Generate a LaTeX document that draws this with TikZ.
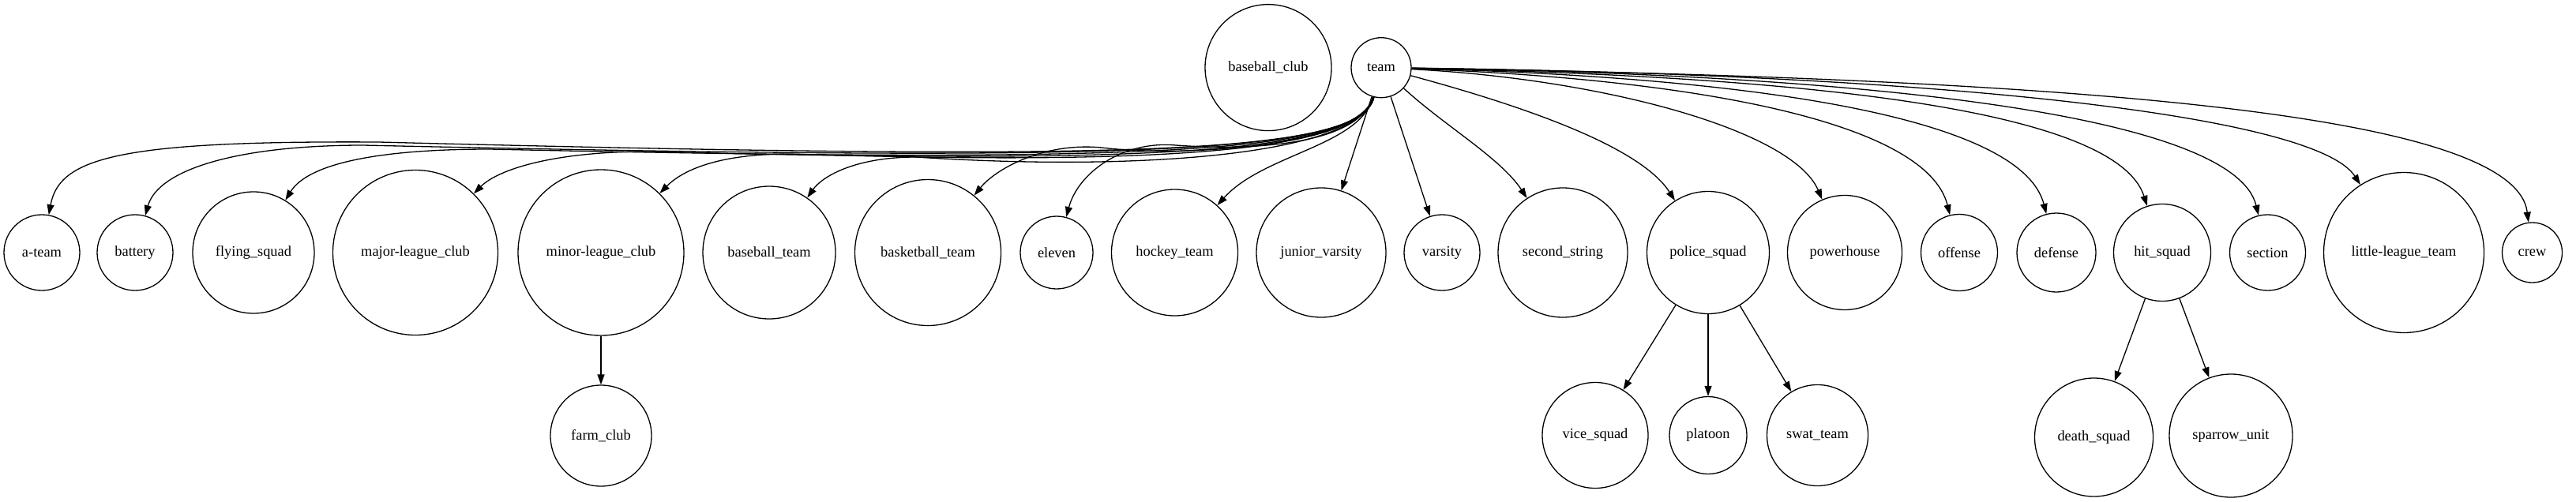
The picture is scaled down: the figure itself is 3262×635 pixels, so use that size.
\documentclass[tikz,border=0pt]{standalone}
\usepackage{fontspec}
\setmainfont{Liberation Serif}
\usetikzlibrary{arrows.meta}
\tikzset{
  nd/.style={circle,draw,line width=1.3pt,inner sep=0pt,minimum size=#1pt,font=\fontsize{18.4}{22}\selectfont},
  edge/.style={line width=1.3pt,-{Triangle[length=13pt,width=9pt]}},
}
\begin{document}
\begin{tikzpicture}[x=1pt,y=-1pt]
\useasboundingbox (0,0) rectangle (3262,635);
% nodes
\node[nd=76]  (team) at (1749,85.7) {team};
\node[nd=160] (bclub) at (1606,85.6) {baseball\_club};
\node[nd=96]  (ateam) at (53,320) {a-team};
\node[nd=96]  (battery) at (171,320) {battery};
\node[nd=154] (flying) at (321,320) {flying\_squad};
\node[nd=209] (major) at (526,320) {major-league\_club};
\node[nd=210] (minor) at (761,320) {minor-league\_club};
\node[nd=128] (farm) at (761,552) {farm\_club};
\node[nd=168] (bteam) at (974,320) {baseball\_team};
\node[nd=185] (basket) at (1175,320) {basketball\_team};
\node[nd=92]  (eleven) at (1338,320) {eleven};
\node[nd=160] (hockey) at (1487.5,320) {hockey\_team};
\node[nd=164] (junior) at (1673,320) {junior\_varsity};
\node[nd=96]  (varsity) at (1826,320) {varsity};
\node[nd=164] (second) at (1979,320) {second\_string};
\node[nd=155] (police) at (2163,320) {police\_squad};
\node[nd=134] (vice) at (2020,551.5) {vice\_squad};
\node[nd=98]  (platoon) at (2163,551.5) {platoon};
\node[nd=128] (swat) at (2301.5,551.5) {swat\_team};
\node[nd=145] (power) at (2336,320) {powerhouse};
\node[nd=97]  (offense) at (2481,320) {offense};
\node[nd=100] (defense) at (2604,320) {defense};
\node[nd=123] (hit) at (2738,320) {hit\_squad};
\node[nd=150] (death) at (2651.5,554) {death\_squad};
\node[nd=156] (sparrow) at (2825,552) {sparrow\_unit};
\node[nd=96]  (section) at (2871.5,320) {section};
\node[nd=203] (little) at (3044,320) {little-league\_team};
\node[nd=76]  (crew) at (3206.5,320) {crew};
% left edges
\draw[edge] (team) .. controls (1722,195) and (1450,205) .. (480,180) .. controls (150,178) and (75,200) .. (ateam);
\draw[edge] (team) .. controls (1722,195) and (1450,206) .. (460,184) .. controls (300,184) and (200,215) .. (battery);
\draw[edge] (team) .. controls (1722,195) and (1450,207) .. (620,189) .. controls (450,189) and (385,215) .. (flying);
\draw[edge] (team) .. controls (1722,195) and (1450,208) .. (820,192) .. controls (700,192) and (630,215) .. (major);
\draw[edge] (team) .. controls (1722,195) and (1450,209) .. (1000,195) .. controls (900,195) and (860,220) .. (minor);
\draw[edge] (team) .. controls (1722,195) and (1450,218) .. (1160,199) .. controls (1080,199) and (1040,225) .. (bteam);
\draw[edge] (team) .. controls (1722,185) and (1500,200) .. (1395,187) .. controls (1320,180) and (1260,215) .. (basket);
\draw[edge] (team) .. controls (1722,180) and (1600,192) .. (1489,184) .. controls (1420,178) and (1365,220) .. (eleven);
\draw[edge] (team) .. controls (1722,185) and (1600,195) .. (hockey);
\draw[edge] (team) -- (junior);
\draw[edge] (team) -- (varsity);
\draw[edge] (team) .. controls (1830,160) and (1900,200) .. (second);
% right edges
\draw[edge] (team) .. controls (1950,140) and (2080,190) .. (police);
\draw[edge] (team) .. controls (2030,100) and (2270,165) .. (power);
\draw[edge] (team) .. controls (2150,100) and (2440,155) .. (offense);
\draw[edge] (team) .. controls (2230,98) and (2560,150) .. (defense);
\draw[edge] (team) .. controls (2300,97) and (2680,140) .. (hit);
\draw[edge] (team) .. controls (2400,95) and (2830,150) .. (section);
\draw[edge] (team) .. controls (2500,95) and (2935,150) .. (little);
\draw[edge] (team) .. controls (2650,100) and (3185,145) .. (crew);
% child edges
\draw[edge] (minor) -- (farm);
\draw[edge] (police) -- (vice);
\draw[edge] (police) -- (platoon);
\draw[edge] (police) -- (swat);
\draw[edge] (hit) -- (death);
\draw[edge] (hit) -- (sparrow);
\end{tikzpicture}
\end{document}
